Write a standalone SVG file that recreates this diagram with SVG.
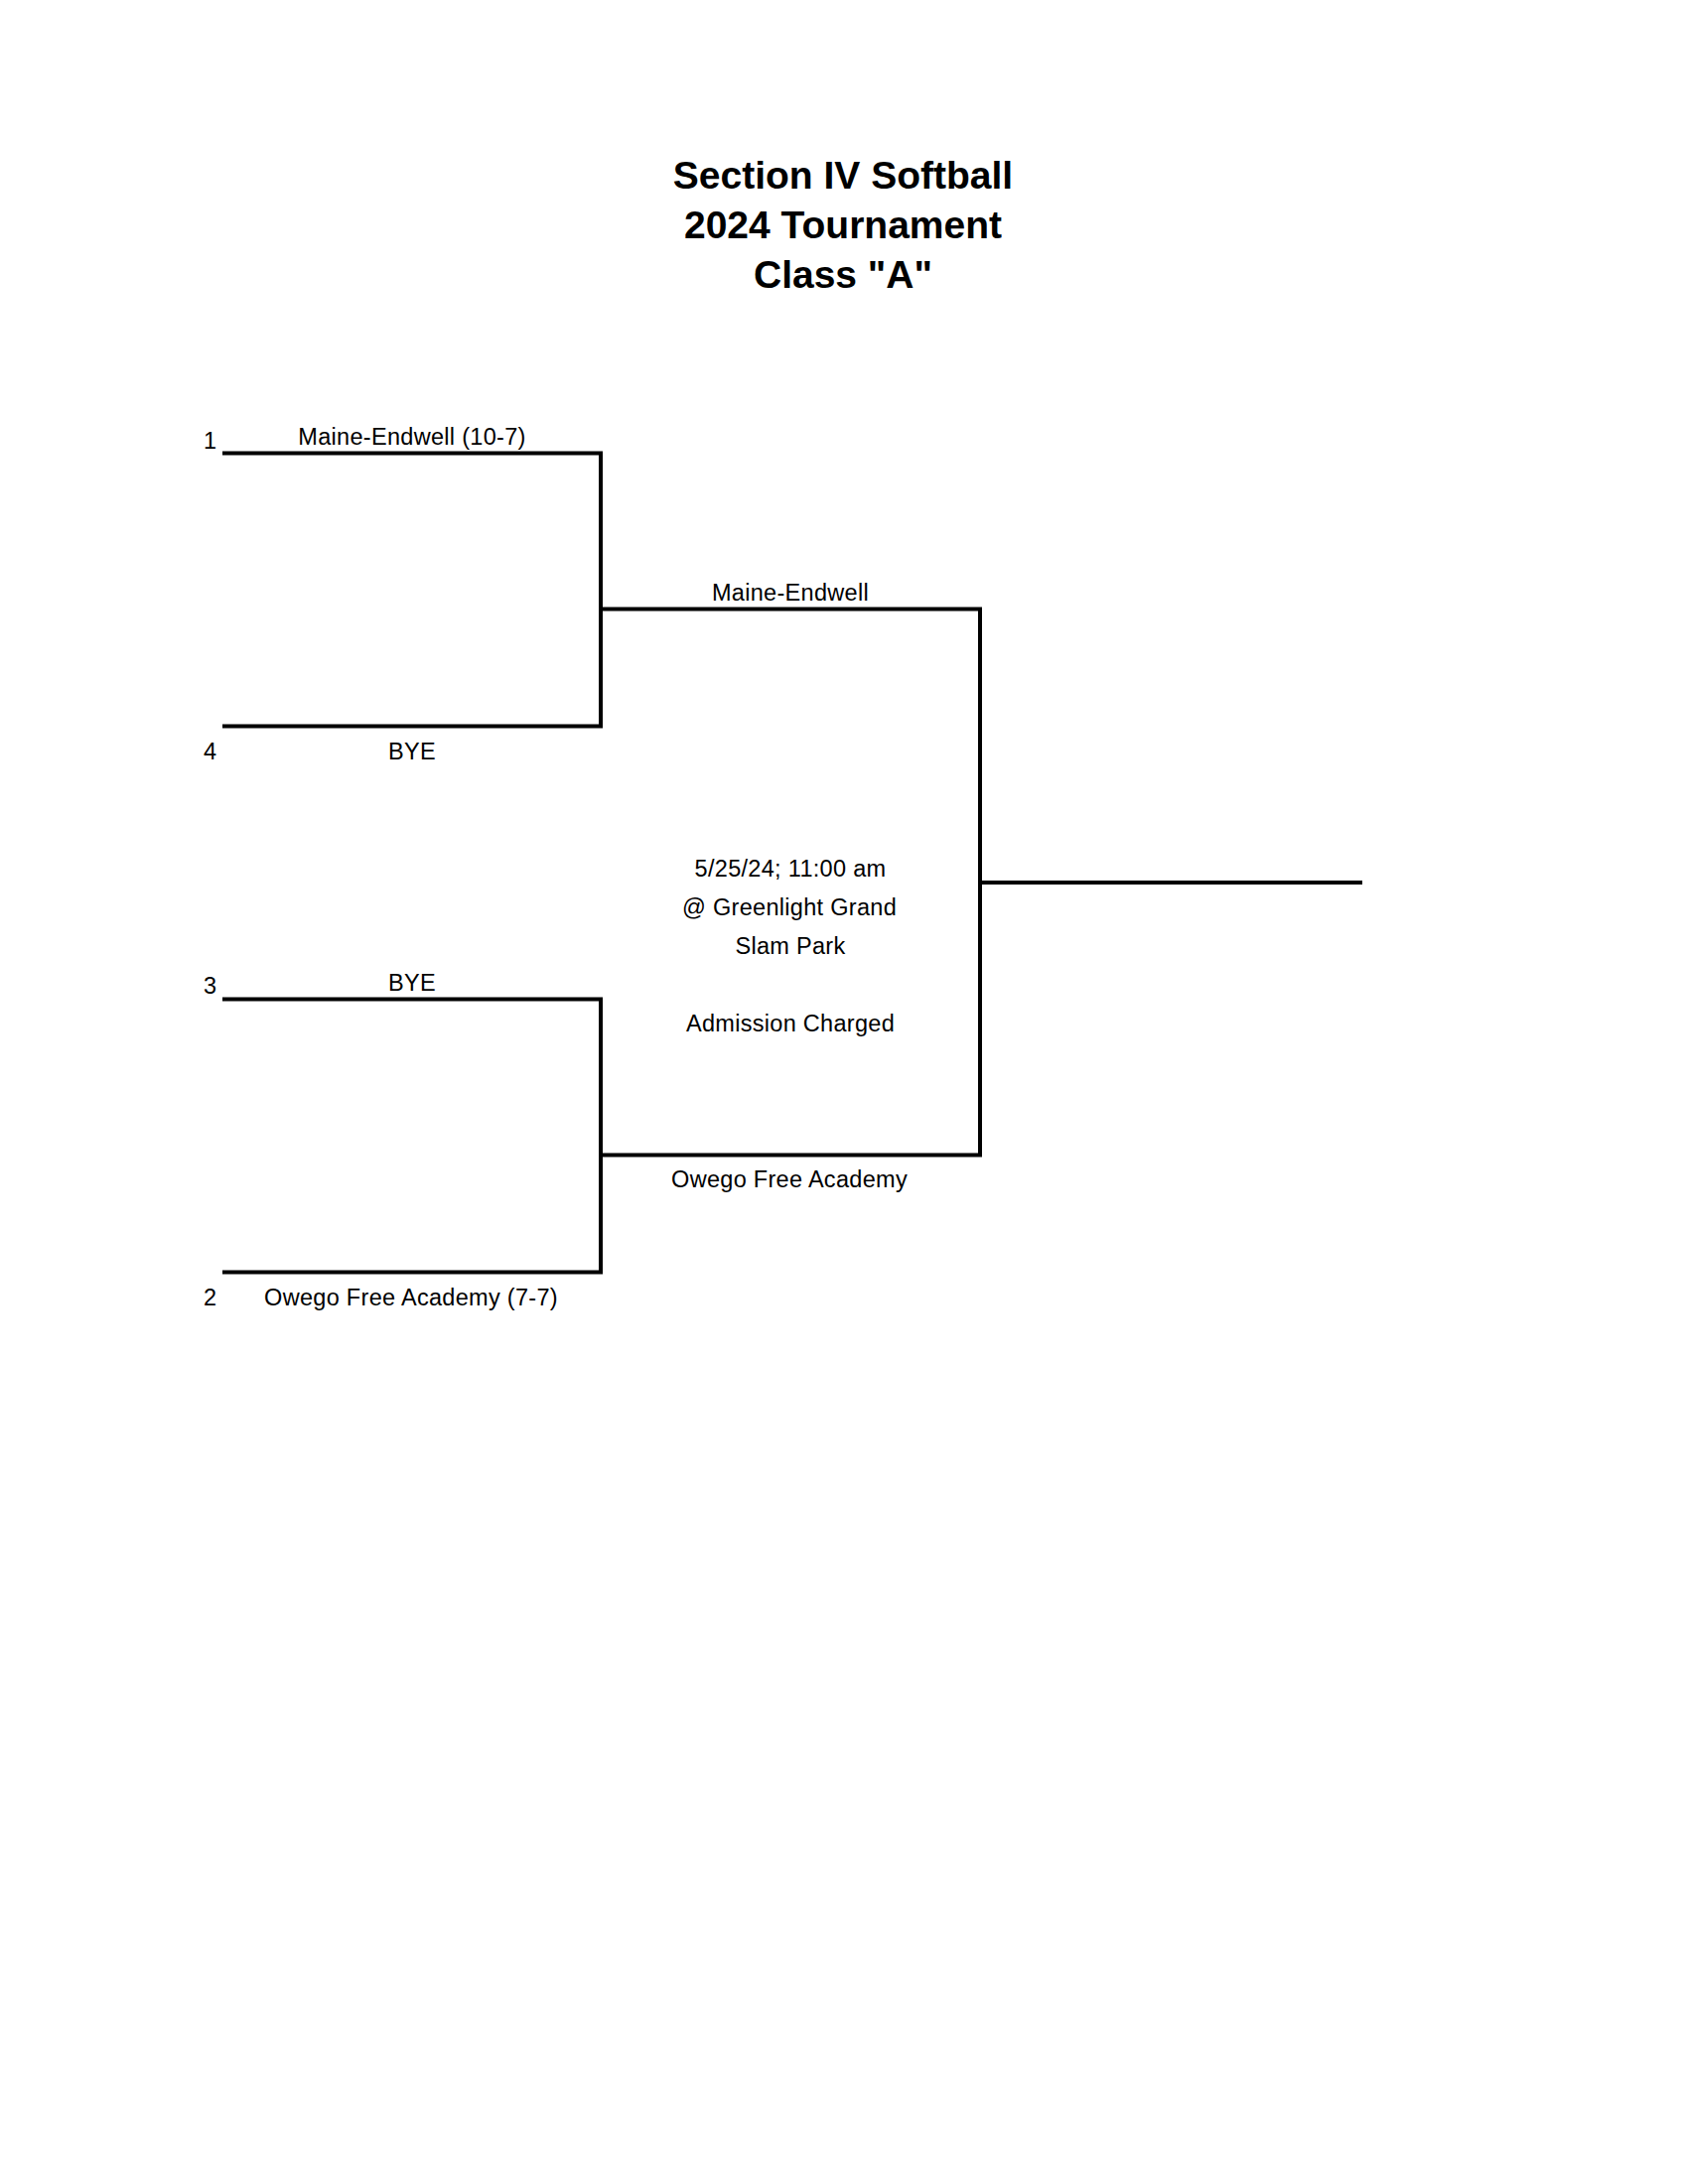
<svg xmlns="http://www.w3.org/2000/svg" width="1700" height="2200" viewBox="0 0 1700 2200">
<style>
.title{font-family:"Liberation Sans",Arial,sans-serif;font-weight:bold;font-size:39px;fill:#000;text-anchor:middle}
.lbl{font-family:"Liberation Sans",Arial,sans-serif;font-size:23.5px;fill:#000;text-anchor:middle;letter-spacing:0.3px}
.seed{font-family:"Liberation Sans",Arial,sans-serif;font-size:23.5px;fill:#000}
.br{fill:none;stroke:#000;stroke-width:4;stroke-linejoin:miter;stroke-linecap:butt}
</style>
<rect width="1700" height="2200" fill="#fff"/>
<g id="title">
<text class="title" x="849" y="190">Section IV Softball</text>
<text class="title" x="849" y="240">2024 Tournament</text>
<text class="title" x="849" y="290">Class "A"</text>
</g>
<g id="connectors">
<polyline class="br" points="224,456.5 605,456.5 605,731.5 224,731.5"/>
<polyline class="br" points="224,1006.5 605,1006.5 605,1281.5 224,1281.5"/>
<polyline class="br" points="605,613.5 987,613.5 987,1163.5 605,1163.5"/>
<line class="br" x1="987" y1="889" x2="1372" y2="889"/>
</g>
<g id="team1">
<text class="seed" x="205" y="452">1</text>
<text class="lbl" x="415" y="448">Maine-Endwell (10-7)</text>
</g>
<g id="team4">
<text class="seed" x="205" y="765">4</text>
<text class="lbl" x="415" y="765">BYE</text>
</g>
<g id="team3">
<text class="seed" x="205" y="1001">3</text>
<text class="lbl" x="415" y="998">BYE</text>
</g>
<g id="team2">
<text class="seed" x="205" y="1315">2</text>
<text class="lbl" x="414" y="1315">Owego Free Academy (7-7)</text>
</g>
<g id="semi1">
<text class="lbl" x="796" y="605">Maine-Endwell</text>
</g>
<g id="semi2">
<text class="lbl" x="795" y="1196">Owego Free Academy</text>
</g>
<g id="gameinfo">
<text class="lbl" x="796" y="883">5/25/24; 11:00 am</text>
<text class="lbl" x="795" y="922">@ Greenlight Grand</text>
<text class="lbl" x="796" y="961">Slam Park</text>
<text class="lbl" x="796" y="1039">Admission Charged</text>
</g>
</svg>
